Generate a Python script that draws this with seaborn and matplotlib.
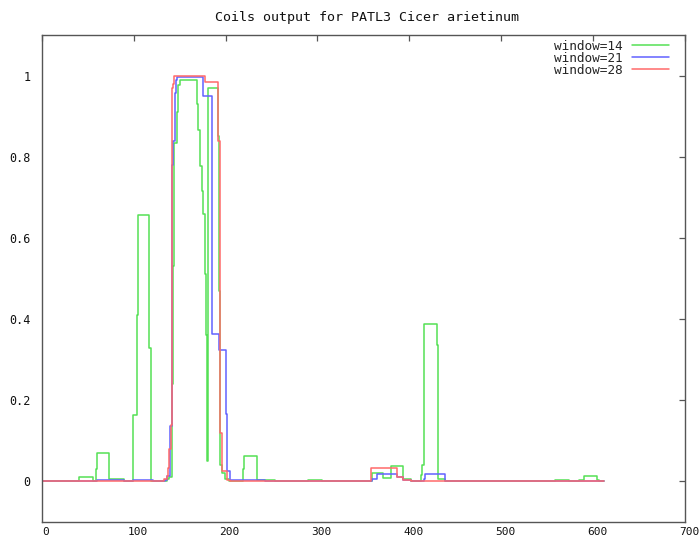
import matplotlib
matplotlib.use("Agg")
import matplotlib.pyplot as plt
from matplotlib.transforms import ScaledTranslation
import pandas as pd
import seaborn as sns

# COILS per-residue coiled-coil probability, stored as change points:
# each value holds from its residue position until the next one.
w14_pos = [1, 40.9, 56.1, 59.1, 60.2, 73.6, 89.9, 99.7, 103.4, 105.1, 117.1, 118.6,
           136.0, 138.8, 142.1, 143.2, 144.5, 147.6, 148.6, 150.5, 168.7, 170.6,
           172.3, 174.1, 175.0, 177.7, 178.8, 179.5, 180.6, 192.2, 192.9, 193.7,
           194.3, 195.9, 199.5, 203.8, 218.7, 219.8, 234.0, 253.9, 289.8, 305.0,
           359.7, 371.7, 380.1, 392.8, 401.9, 410.6, 412.8, 414.1, 416.0, 429.8,
           431.6, 438.8, 558.5, 573.8, 584.9, 590.4, 604.6, 606.4, 612.0]
w14_val = [0, 0.01, 0, 0.03, 0.071, 0.007, 0, 0.163, 0.409, 0.656, 0.329, 0,
           0.005, 0.012, 0.24, 0.53, 0.835, 0.91, 0.978, 0.988, 0.929, 0.867,
           0.777, 0.715, 0.658, 0.51, 0.36, 0.05, 0.97, 0.85, 0.47, 0.12,
           0.04, 0.02, 0.005, 0, 0.03, 0.062, 0.003, 0, 0.003, 0,
           0.02, 0.009, 0.037, 0.005, 0.002, 0, 0.017, 0.04, 0.387, 0.335,
           0.005, 0, 0.003, 0, 0.003, 0.013, 0.003, 0, 0]

w21_pos = [1, 59.8, 89.9, 99.7, 120.8, 134.2, 136.3, 139.9, 141.5, 143.2, 145.0,
           146.1, 147.6, 175.8, 185.0, 193.3, 200.5, 202.0, 204.4, 243.0,
           359.1, 365.2, 386.3, 393.5, 401.9, 416.0, 417.4, 438.5, 612.0]
w21_val = [0, 0.004, 0, 0.003, 0, 0.003, 0.013, 0.137, 0.78, 0.838, 0.957,
           0.99, 0.997, 0.949, 0.363, 0.325, 0.165, 0.025, 0.004, 0,
           0.005, 0.018, 0.01, 0.003, 0, 0.005, 0.018, 0, 0]

w28_pos = [1, 133.4, 136.0, 137.8, 138.5, 140.2, 141.5, 142.5, 144.0, 177.7,
           192.2, 193.5, 195.9, 201.3, 204.9, 358.3, 386.3, 393.5, 401.9, 612.0]
w28_val = [0, 0.005, 0.013, 0.034, 0.079, 0.14, 0.97, 0.98, 1.0, 0.983,
           0.84, 0.12, 0.025, 0.003, 0, 0.033, 0.01, 0.003, 0, 0]

series_names = ["window=14", "window=21", "window=28"]
series_colors = ["#55e055", "#6262ff", "#ff6a6a"]
x_ticks = [0, 100, 200, 300, 400, 500, 600, 700]
y_ticks = [0, 0.2, 0.4, 0.6, 0.8, 1]
y_tick_labels = ["0", "0.2", "0.4", "0.6", "0.8", "1"]
title = "Coils output for PATL3 Cicer arietinum"

frames = []
for name, pos, val in zip(series_names, [w14_pos, w21_pos, w28_pos],
                          [w14_val, w21_val, w28_val]):
    frames.append(pd.DataFrame({"residue": pos, "score": val, "series": name}))
df = pd.concat(frames, ignore_index=True)

sns.set_style("white")
plt.rcParams["font.family"] = ["DejaVu Sans Mono", "DejaVu Sans"]

fig = plt.figure(figsize=(7.0, 5.4), dpi=100)
ax = fig.add_axes([41.7 / 700, 1 - 522 / 540, (685 - 41.7) / 700, (522 - 35) / 540])

sns.lineplot(data=df, x="residue", y="score", hue="series",
             palette=dict(zip(series_names, series_colors)),
             hue_order=series_names, estimator=None, sort=True,
             drawstyle="steps-post", linewidth=1.1, ax=ax)

ax.set_xlim(0, 700)
ax.set_ylim(-0.1, 1.1)
ax.set_xticks(x_ticks)
ax.set_xticklabels([str(t) for t in x_ticks])
ax.set_yticks(y_ticks)
ax.set_yticklabels(y_tick_labels)
ax.set_xlabel("")
ax.set_ylabel("")

for s in ax.spines.values():
    s.set_visible(True)
    s.set_color("#555555")
    s.set_linewidth(1.0)
ax.tick_params(axis="both", direction="in", length=4, width=0.9, color="#555555",
               top=True, right=True, labelsize=8.5, labelcolor="#111111")
ax.tick_params(axis="y", pad=8)
ax.tick_params(axis="x", pad=3.5, labelsize=8)
shift = ScaledTranslation(4 / 100, 0, fig.dpi_scale_trans)
for lab in ax.get_xticklabels():
    lab.set_transform(lab.get_transform() + shift)

handles, labels = ax.get_legend_handles_labels()
ax.legend(handles, labels, loc="upper right", bbox_to_anchor=(0.975, 0.99),
          frameon=False, markerfirst=False, fontsize=9.2, handlelength=2.9,
          handletextpad=0.7, labelspacing=-0.08, borderpad=0, borderaxespad=0)

fig.text(367 / 700, 1 - 17 / 540, title, ha="center", va="center",
         fontsize=9.6, color="#111111")

fig.savefig("out.png", dpi=100)
